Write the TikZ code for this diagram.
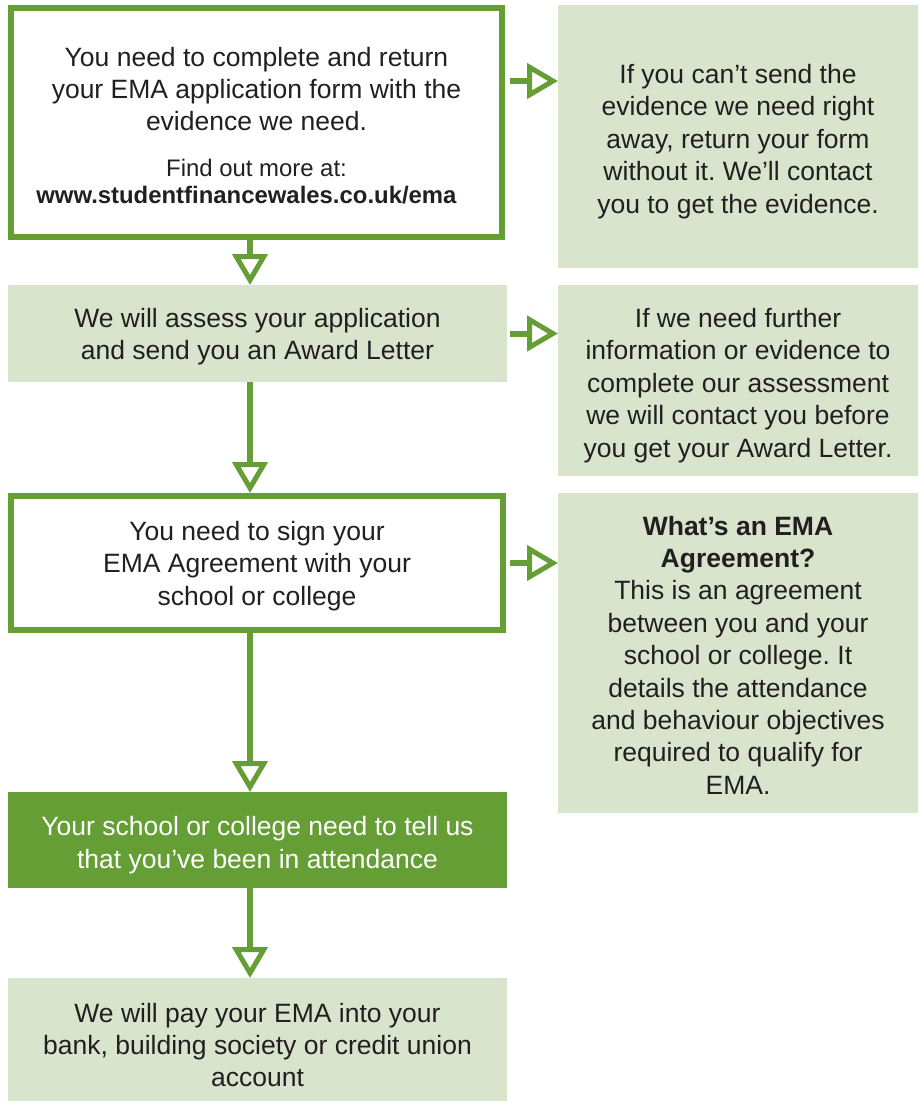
\documentclass[tikz,border=0pt]{standalone}
\usepackage{fontspec}
\setmainfont{Liberation Sans}
\usetikzlibrary{arrows.meta,calc}
\definecolor{sfgreen}{HTML}{659E35}
\definecolor{sflight}{HTML}{D8E4CC}
\definecolor{sftext}{HTML}{231F20}
\frenchspacing
\begin{document}
\begin{tikzpicture}[x=1pt,y=-1pt,
  base/.style={anchor=north west, inner sep=0pt, outer sep=0pt},
  outlinebox/.style={base, draw=sfgreen, line width=6pt, outer sep=3pt, fill=white},
  lightbox/.style={base, fill=sflight},
  darkbox/.style={base, fill=sfgreen},
  txt/.style={inner sep=0pt, align=center, text=sftext, font=\fontsize{26.5}{32.4}\selectfont},
  conn/.style={draw=sfgreen, line width=6pt,
    -{Triangle[open, length=31pt, width=35pt, line width=5pt]}}]
\useasboundingbox (0,0) rectangle (922,1101);

% left column boxes
\node[outlinebox, minimum width=491, minimum height=229] (b1) at (8,5) {};
\node[lightbox, minimum width=499, minimum height=97] (b2) at (8,285) {};
\node[outlinebox, minimum width=492, minimum height=134] (b3) at (8,493) {};
\node[darkbox, minimum width=499, minimum height=96] (b4) at (8,792) {};
\node[lightbox, minimum width=499, minimum height=123] (b5) at (8,978) {};

% right column boxes
\node[lightbox, minimum width=360, minimum height=263] (r1) at (558,5) {};
\node[lightbox, minimum width=360, minimum height=191] (r2) at (558,285) {};
\node[lightbox, minimum width=360, minimum height=320] (r3) at (558,493) {};

% texts
\node[txt] (b1txt) at (256.5,129) {\fontsize{26.5}{32}\selectfont\begin{tabular}{@{}c@{}}
  You need to complete and return\\
  your EMA application form with the\\
  evidence we need.\\[14pt]
  \fontsize{23.9}{27}\selectfont Find out more at:\\[-5pt]
  \fontsize{23.9}{27}\selectfont\textbf{www.studentfinancewales.co.uk/ema}\hspace*{20pt}
\end{tabular}};
\node[txt] (b2txt) at ([yshift=-3pt]b2.center)
  {We will assess your application\\and send you an Award Letter};
\node[txt] (b3txt) at ([yshift=-3pt]b3.center)
  {You need to sign your\\EMA Agreement with your\\school or college};
\node[txt, text=white] (b4txt) at ([yshift=-5pt]b4.center)
  {Your school or college need to tell us\\that you\textquoteright ve been in attendance};
\node[txt] (b5txt) at (257.5,1045)
  {We will pay your EMA into your\\bank, building society or credit union\\account};
\node[txt] (r1txt) at ([yshift=-5pt]r1.center)
  {If you can\textquoteright t send the\\evidence we need right\\away, return your form\\without it. We\textquoteright ll contact\\you to get the evidence.};
\node[txt] (r2txt) at ([yshift=-5pt]r2.center)
  {If we need further\\information or evidence to\\complete our assessment\\we will contact you before\\you get your Award Letter.};
\node[txt] (r3txt) at ([yshift=-2pt]r3.center)
  {\textbf{What\textquoteright s an EMA}\\\textbf{Agreement?}\\This is an agreement\\between you and your\\school or college. It\\details the attendance\\and behaviour objectives\\required to qualify for\\EMA.};

% connectors
\coordinate (col) at (250,0);
\draw[conn] (b1.south -| col) -- (b2.north -| col);
\draw[conn] (b2.south -| col) -- (b3.north -| col);
\draw[conn] (b3.south -| col) -- (b4.north -| col);
\draw[conn] (b4.south -| col) -- (b5.north -| col);

\coordinate (a1) at (510,81);
\draw[conn] (a1) -- (a1 -| r1.west);
\draw[conn] ([xshift=3pt]b2.east) -- (b2.east -| r2.west);
\draw[conn] ([xshift=4pt]b3.east) -- (b3.east -| r3.west);
\end{tikzpicture}
\end{document}
